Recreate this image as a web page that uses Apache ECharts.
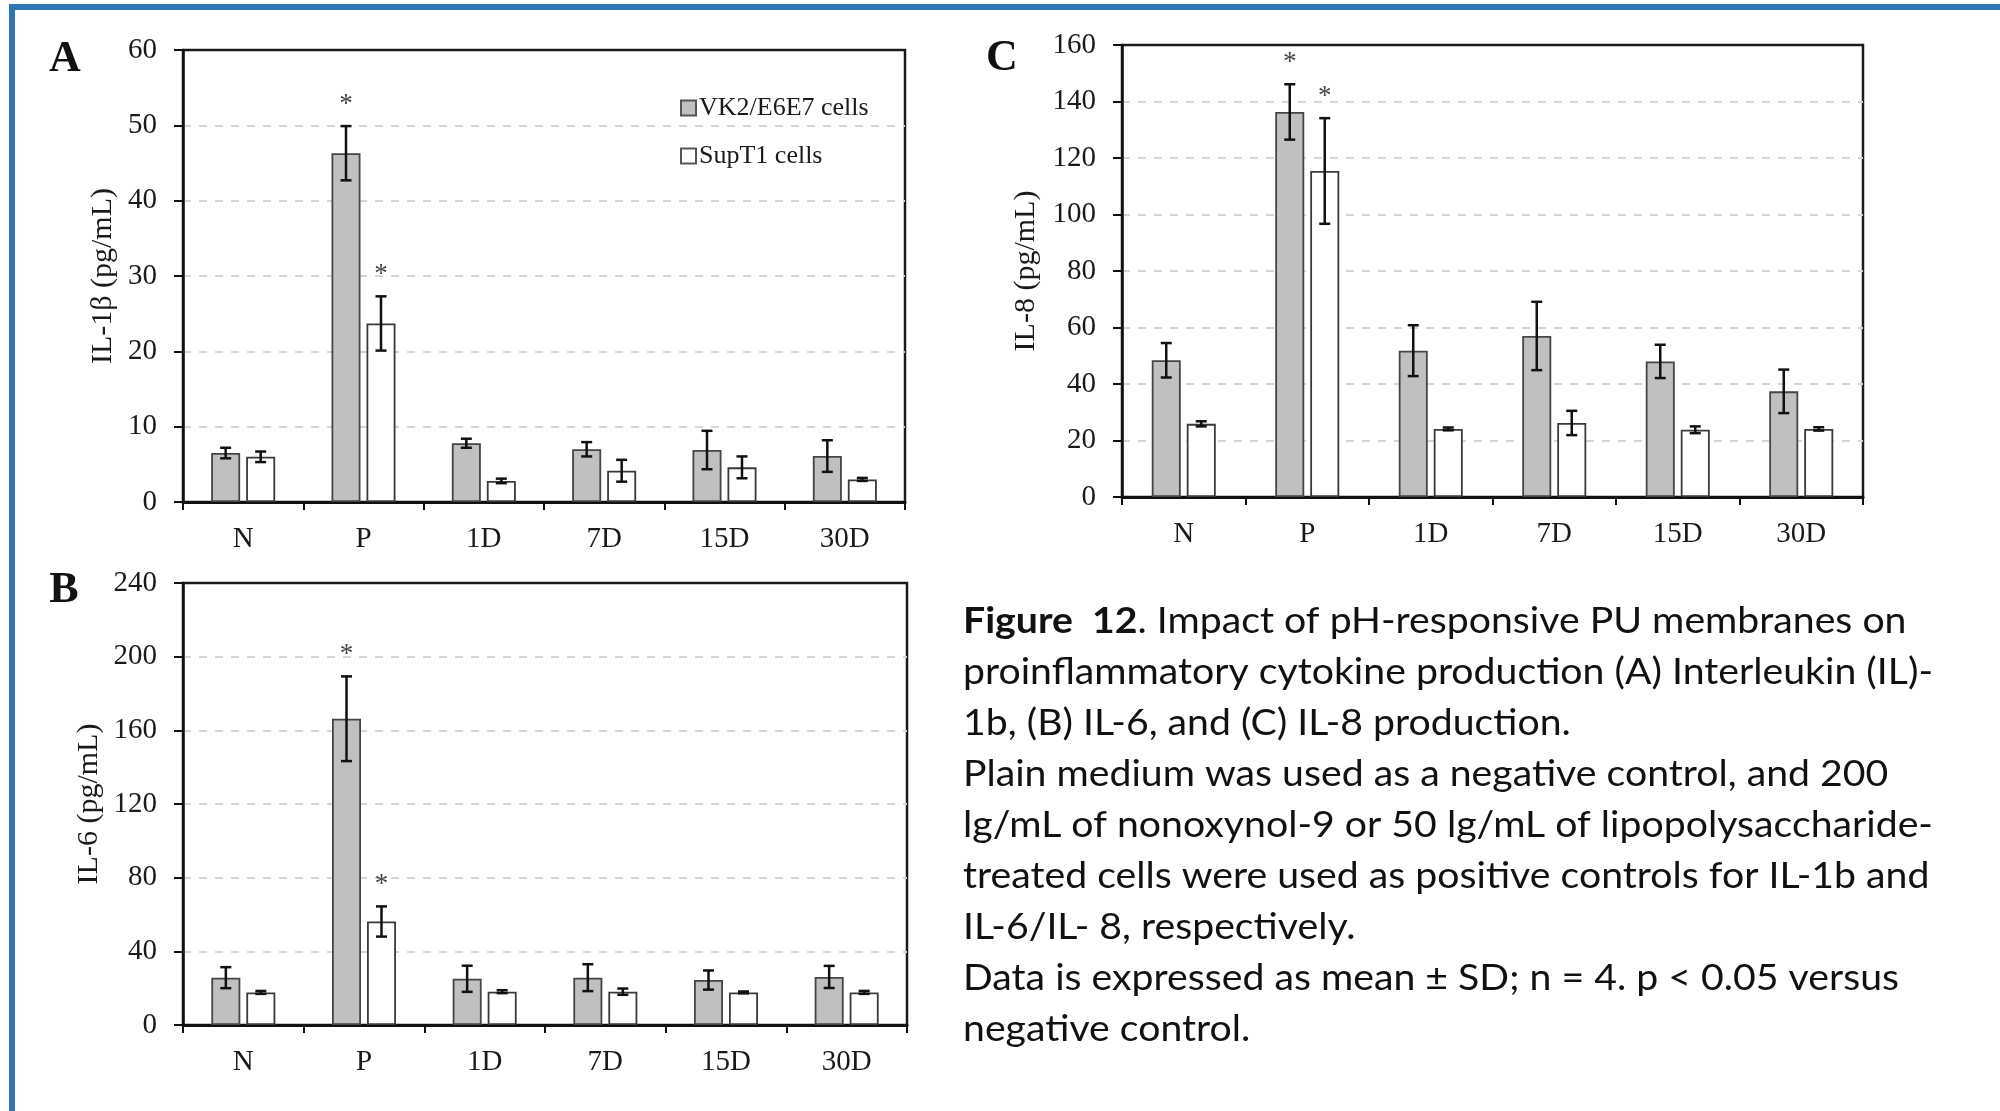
<!DOCTYPE html>
<html>
<head>
<meta charset="utf-8">
<script src="https://cdn.jsdelivr.net/npm/echarts@6/dist/echarts.min.js"></script>
<style>
  html, body { margin: 0; padding: 0; background: #ffffff; }
  #chart { width: 2000px; height: 1111px; }
</style>
</head>
<body>
<div id="chart"></div>
<script>
// Treatment groups on every x axis
const CATEGORIES = ['N', 'P', '1D', '7D', '15D', '30D'];
// Groups flagged as significant versus the negative control
const SIGNIFICANT = [0, 1, 0, 0, 0, 0];

// (A) IL-1β, pg/mL — mean and SD
const il1bVK = [6.5, 46.3, 7.8, 7.0, 6.9, 6.1];
const il1bVKsd = [0.7, 3.6, 0.6, 0.95, 2.55, 2.1];
const il1bSup = [6.0, 23.7, 2.8, 4.15, 4.6, 3.0];
const il1bSupSd = [0.7, 3.6, 0.3, 1.45, 1.45, 0.2];

// (B) IL-6, pg/mL
const il6VK = [25.7, 166.3, 25.1, 25.7, 24.4, 26.1];
const il6VKsd = [5.7, 23.0, 7.1, 7.3, 5.2, 6.0];
const il6Sup = [17.7, 56.2, 18.1, 18.1, 17.7, 17.7];
const il6SupSd = [0.8, 8.2, 0.8, 1.7, 0.5, 0.8];

// (C) IL-8, pg/mL
const il8VK = [48.4, 136.3, 51.8, 57.0, 48.0, 37.4];
const il8VKsd = [6.1, 9.8, 9.0, 12.1, 5.9, 7.7];
const il8Sup = [25.9, 115.4, 24.1, 26.2, 23.8, 24.1];
const il8SupSd = [0.9, 18.7, 0.5, 4.3, 1.2, 0.6];

// Y-axis ticks per panel
const yTicksA = { max: 60, interval: 10 };
const yTicksB = { max: 240, interval: 40 };
const yTicksC = { max: 160, interval: 20 };

const SERIES_VK = 'VK2/E6E7 cells';
const SERIES_SUP = 'SupT1 cells';

const SERIF = '"Liberation Serif", "Times New Roman", serif';
const INK = '#1a1a1a';
const BAR_W = 29;
const BAR_GAP_PX = 6;
const HALF_STEP = (BAR_W + BAR_GAP_PX) / 2;
const CAP = 5.5;
const STAR_GAP = 21;

function errorRenderer(dir) {
  return function (params, api) {
    const i = api.value(0), m = api.value(1), sd = api.value(2), star = api.value(3);
    const hi = api.coord([i, m + sd]);
    const lo = api.coord([i, m - sd]);
    const x = hi[0] + dir * HALF_STEP;
    const st = { stroke: '#111', lineWidth: 2.5 };
    const children = [
      { type: 'line', shape: { x1: x, y1: hi[1], x2: x, y2: lo[1] }, style: st },
      { type: 'line', shape: { x1: x - CAP, y1: hi[1], x2: x + CAP, y2: hi[1] }, style: st },
      { type: 'line', shape: { x1: x - CAP, y1: lo[1], x2: x + CAP, y2: lo[1] }, style: st }
    ];
    if (star) {
      children.push({
        type: 'text', x: x, y: hi[1] - STAR_GAP,
        style: { text: '*', fill: '#444', font: '27px ' + SERIF, align: 'center', verticalAlign: 'middle' }
      });
    }
    return { type: 'group', children: children };
  };
}

function panelSeries(idx, vk, vkSd, sup, supSd) {
  return [
    {
      name: SERIES_VK, type: 'bar', xAxisIndex: idx, yAxisIndex: idx,
      barWidth: BAR_W, barGap: (BAR_GAP_PX / BAR_W * 100) + '%',
      itemStyle: { color: '#c0c0c0', borderColor: '#454545', borderWidth: 1.8 },
      data: vk, z: 2
    },
    {
      name: SERIES_SUP, type: 'bar', xAxisIndex: idx, yAxisIndex: idx,
      barWidth: BAR_W, barGap: (BAR_GAP_PX / BAR_W * 100) + '%',
      itemStyle: { color: '#ffffff', borderColor: '#3a3a3a', borderWidth: 1.8 },
      data: sup, z: 2
    },
    {
      type: 'custom', xAxisIndex: idx, yAxisIndex: idx, z: 5,
      renderItem: errorRenderer(-1), encode: { x: 0, y: 1 },
      data: vk.map((m, i) => [i, m, vkSd[i], SIGNIFICANT[i]])
    },
    {
      type: 'custom', xAxisIndex: idx, yAxisIndex: idx, z: 5,
      renderItem: errorRenderer(1), encode: { x: 0, y: 1 },
      data: sup.map((m, i) => [i, m, supSd[i], SIGNIFICANT[i]])
    }
  ];
}

function xAxisFor(idx) {
  return {
    gridIndex: idx, type: 'category', data: CATEGORIES,
    axisLine: { show: true, lineStyle: { color: '#111', width: 3 } },
    axisTick: { show: true, length: 8, lineStyle: { color: '#111', width: 2 } },
    axisLabel: { fontFamily: SERIF, fontSize: 29, color: INK, margin: 23 },
    splitLine: { show: false }
  };
}

function yAxisFor(idx, ticks, name, gap) {
  return {
    gridIndex: idx, type: 'value', min: 0, max: ticks.max, interval: ticks.interval,
    name: name, nameLocation: 'middle', nameRotate: 90, nameGap: gap,
    nameTextStyle: { fontFamily: SERIF, fontSize: 30, color: INK },
    axisLine: { show: true, lineStyle: { color: '#111', width: 2.5 } },
    axisTick: { show: true, length: 9, lineStyle: { color: '#111', width: 2 } },
    axisLabel: { fontFamily: SERIF, fontSize: 29, color: INK, margin: 26 },
    splitLine: {
      show: true, showMinLine: false, showMaxLine: false,
      lineStyle: { type: [8, 8], color: '#d6d6d6', width: 2 }
    }
  };
}

const captionLines = [
  '{b|Figure  12}. Impact of pH-responsive PU membranes on',
  'proinflammatory cytokine production (A) Interleukin (IL)-',
  '1b, (B) IL-6, and (C) IL-8 production.',
  'Plain medium was used as a negative control, and 200',
  'lg/mL of nonoxynol-9 or 50 lg/mL of lipopolysaccharide-',
  'treated cells were used as positive controls for IL-1b and',
  'IL-6/IL- 8, respectively.',
  'Data is expressed as mean \u00B1 SD; n = 4. p < 0.05 versus',
  'negative control.'
];

const CAPTION_FONT = '"Lato", "Open Sans", sans-serif';
const CAPTION_SIZE = 37;
const graphics = [
  { type: 'rect', shape: { x: 9, y: 4, width: 1991, height: 6 }, style: { fill: '#2e75b6' } },
  { type: 'rect', shape: { x: 9, y: 4, width: 6, height: 1107 }, style: { fill: '#2e75b6' } },
  { type: 'text', x: 65, y: 60, style: { text: 'A', font: 'bold 44px ' + SERIF, fill: '#111', align: 'center', verticalAlign: 'middle' } },
  { type: 'text', x: 64, y: 591, style: { text: 'B', font: 'bold 44px ' + SERIF, fill: '#111', align: 'center', verticalAlign: 'middle' } },
  { type: 'text', x: 1002, y: 59, style: { text: 'C', font: 'bold 44px ' + SERIF, fill: '#111', align: 'center', verticalAlign: 'middle' } }
];
captionLines.forEach((line, k) => {
  graphics.push({
    type: 'text', x: 963, y: 621 + 51 * k, scaleX: 1.06,
    style: {
      text: line, fill: '#111', fontFamily: CAPTION_FONT, fontSize: CAPTION_SIZE,
      align: 'left', verticalAlign: 'middle',
      rich: { b: { fontFamily: CAPTION_FONT, fontSize: CAPTION_SIZE, fontWeight: 'bold', fill: '#111' } }
    }
  });
});

const chart = echarts.init(document.getElementById('chart'), null, { renderer: 'canvas' });
chart.setOption({
  backgroundColor: '#ffffff',
  animation: false,
  grid: [
    { left: 183, top: 50, width: 722, height: 452, show: true, borderColor: '#1a1a1a', borderWidth: 2.5, outerBoundsMode: 'none' },
    { left: 183, top: 583, width: 724, height: 442, show: true, borderColor: '#1a1a1a', borderWidth: 2.5, outerBoundsMode: 'none' },
    { left: 1122, top: 45, width: 741, height: 452, show: true, borderColor: '#1a1a1a', borderWidth: 2.5, outerBoundsMode: 'none' }
  ],
  legend: {
    orient: 'vertical', left: 675, top: 90, itemWidth: 15, itemHeight: 15, itemGap: 22,
    selectedMode: false,
    textStyle: { fontFamily: SERIF, fontSize: 26, color: '#1a1a1a', padding: [0, 0, 0, -2] },
    data: [
      { name: SERIES_VK, icon: 'rect', itemStyle: { color: '#c0c0c0', borderColor: '#555', borderWidth: 2 } },
      { name: SERIES_SUP, icon: 'rect', itemStyle: { color: '#ffffff', borderColor: '#555', borderWidth: 2 } }
    ]
  },
  xAxis: [xAxisFor(0), xAxisFor(1), xAxisFor(2)],
  yAxis: [
    yAxisFor(0, yTicksA, 'IL-1\u03B2 (pg/mL)', 65),
    yAxisFor(1, yTicksB, 'IL-6 (pg/mL)', 79),
    yAxisFor(2, yTicksC, 'IL-8 (pg/mL)', 81)
  ],
  series: [].concat(
    panelSeries(0, il1bVK, il1bVKsd, il1bSup, il1bSupSd),
    panelSeries(1, il6VK, il6VKsd, il6Sup, il6SupSd),
    panelSeries(2, il8VK, il8VKsd, il8Sup, il8SupSd)
  ),
  graphic: graphics
});
</script>
</body>
</html>
